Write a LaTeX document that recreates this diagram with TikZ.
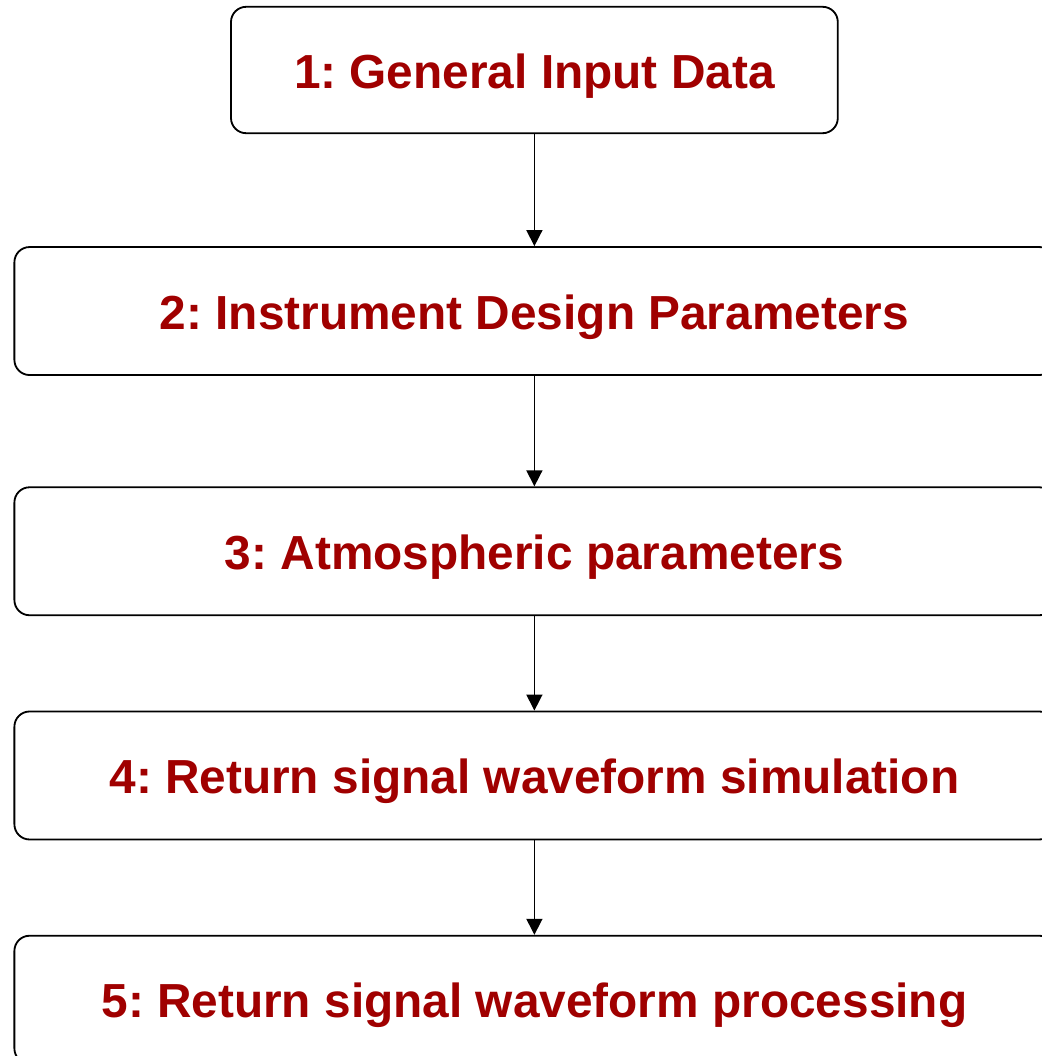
\documentclass[tikz,border=0pt]{standalone}
\usepackage{fontspec}
\setmainfont{Liberation Sans}
\usetikzlibrary{positioning,arrows.meta}
\definecolor{stagered}{RGB}{160,0,0}
\frenchspacing

\begin{document}
\begin{tikzpicture}[
    node distance=2.8cm,
    stage/.style={draw, line width=1.3pt, rounded corners=0.38cm,
                  minimum height=3.2cm, minimum width=26cm, text=stagered,
                  text height=0.9cm, text depth=0pt,
                  font=\fontsize{34}{40}\selectfont\bfseries},
    flow/.style={-{Triangle[length=0.4cm,width=0.4cm]}, line width=1.1pt}
]
\useasboundingbox (0,0) rectangle (26.05,-26.4);

\node[stage, minimum width=15.17cm, minimum height=3.16cm] (input) at (13.36,-1.75) {1: General Input Data};
\node[stage, below=2.8cm of input] (design) {2: Instrument Design Parameters};
\node[stage, below=2.76cm of design] (atmos) {3: Atmospheric parameters};
\node[stage, below=2.36cm of atmos] (sim) {4: Return signal waveform simulation};
\node[stage, below=2.36cm of sim] (proc) {5: Return signal waveform processing};

\draw[flow] (input) -- (design);
\draw[flow] (design) -- (atmos);
\draw[flow] (atmos) -- (sim);
\draw[flow] (sim) -- (proc);

\end{tikzpicture}
\end{document}
